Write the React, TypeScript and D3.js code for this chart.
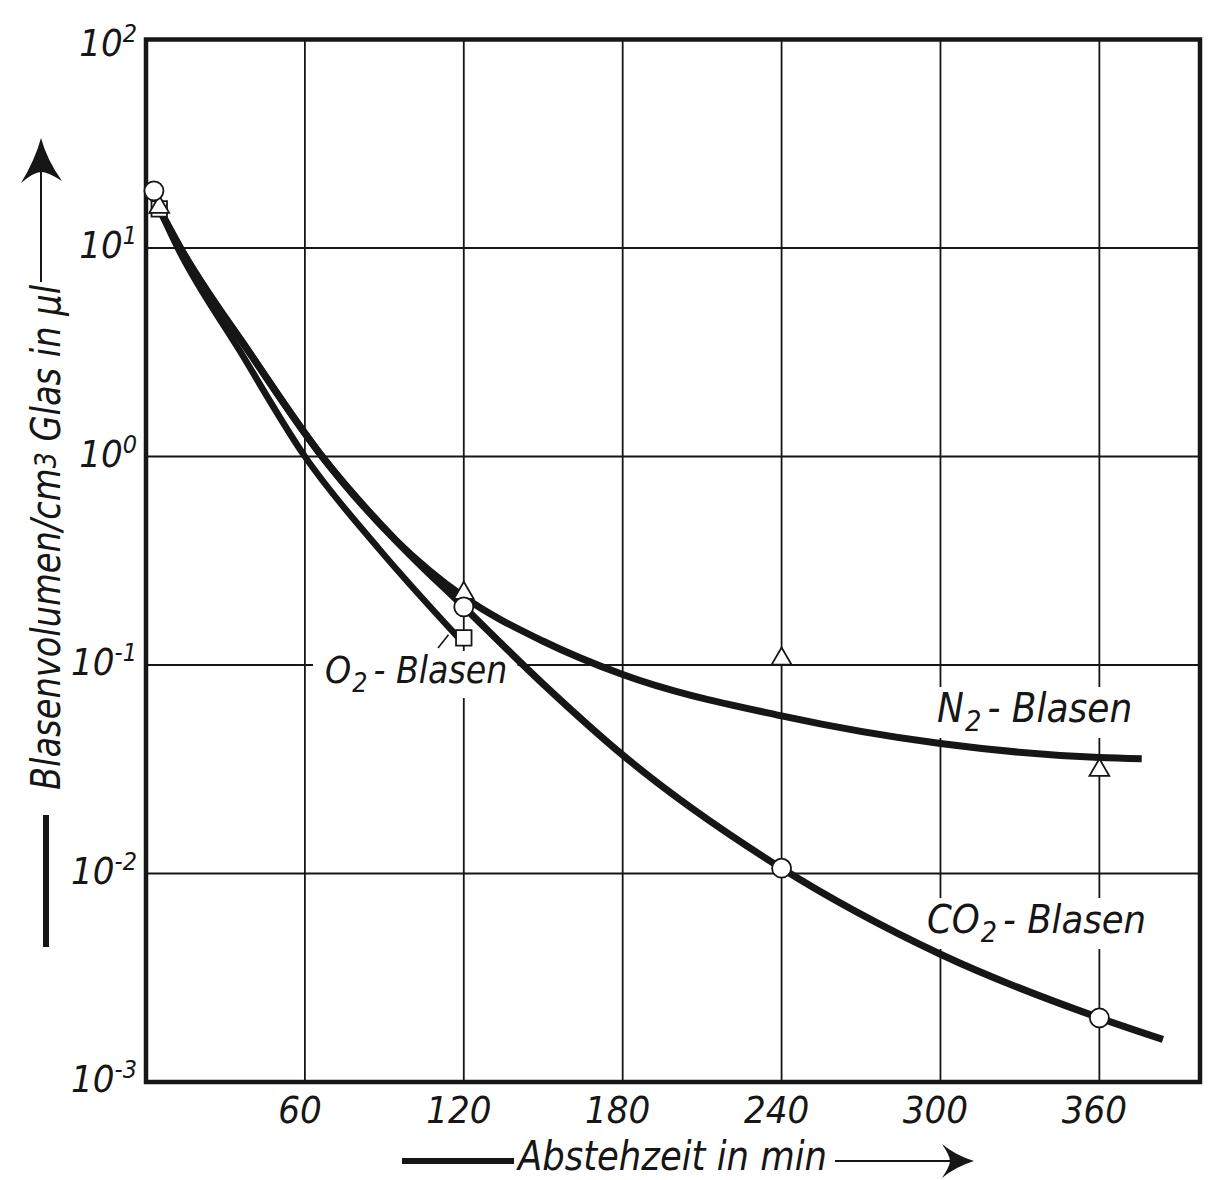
import React, { useEffect, useRef } from "react";
import * as d3 from "d3";

// measured points (time in min, volume in µl per cm3 glass)
const co2MarkT = [3, 120, 240, 360];
const co2MarkV = [18.8, 0.19, 0.0106, 0.00203];
const n2MarkT = [5, 120, 240, 360];
const n2MarkV = [15.7, 0.221, 0.107, 0.0313];
const o2MarkT = [5, 120];
const o2MarkV = [15.4, 0.135];

// drawn (fitted) curves
const o2CurveT = [5, 12, 35.5, 60, 88, 118];
const o2CurveV = [15.4, 10, 3.2, 1, 0.36, 0.135];
const n2CurveT = [5, 13, 39, 66.5, 94, 120, 150, 180, 240, 300, 360, 376];
const n2CurveV = [15.4, 10, 3.16, 1, 0.4, 0.212, 0.13, 0.09, 0.057, 0.042, 0.036, 0.0355];
const co2CurveT = [5, 13, 39, 66.5, 94, 120, 150, 180, 240, 300, 360, 384];
const co2CurveV = [15.4, 10, 3.16, 1, 0.4, 0.19, 0.081, 0.037, 0.0106, 0.0041, 0.00203, 0.0016];

const xTicks = [60, 120, 180, 240, 300, 360];
const yTicks = [1e-3, 1e-2, 1e-1, 1e0, 1e1, 1e2];
const yTickExp = ["-3", "-2", "-1", "0", "1", "2"];

const W = 1223;
const H = 1180;
const FONT = "'Liberation Sans Narrow', 'DejaVu Sans Condensed', 'Liberation Sans', sans-serif";
const INK = "#161616";

const zip = (t: number[], v: number[]) => t.map((d, i) => ({ t: d, v: v[i] }));

const App = () => {
  const ref = useRef<SVGSVGElement>(null);

  useEffect(() => {
    const svg = d3.select(ref.current);
    svg.selectAll("*").remove();

    const x = d3.scaleLinear().domain([0, 398]).range([146, 1200]);
    const y = d3.scaleLog().domain([1e-3, 1e2]).range([1082, 39.5]);

    svg.append("rect").attr("width", W).attr("height", H).attr("fill", "#fff");

    // grid
    const grid = svg.append("g").attr("stroke", INK).attr("stroke-width", 1.8);
    grid
      .selectAll("line.v")
      .data(xTicks)
      .enter()
      .append("line")
      .attr("x1", (d) => x(d))
      .attr("x2", (d) => x(d))
      .attr("y1", y(1e2))
      .attr("y2", y(1e-3));
    grid
      .selectAll("line.h")
      .data(yTicks.slice(1, -1))
      .enter()
      .append("line")
      .attr("x1", x(0))
      .attr("x2", x(398))
      .attr("y1", (d) => y(d))
      .attr("y2", (d) => y(d));

    // frame
    svg
      .append("rect")
      .attr("x", x(0))
      .attr("y", y(1e2))
      .attr("width", x(398) - x(0))
      .attr("height", y(1e-3) - y(1e2))
      .attr("fill", "none")
      .attr("stroke", INK)
      .attr("stroke-width", 4.5);

    const txt = (g: any) =>
      g.attr("font-family", FONT).attr("font-style", "italic").attr("fill", INK);

    // x tick labels
    svg
      .append("g")
      .call(txt)
      .attr("font-size", 38)
      .attr("text-anchor", "middle")
      .selectAll("text")
      .data(xTicks)
      .enter()
      .append("text")
      .attr("x", (d) => x(d) - 5)
      .attr("y", 1123)
      .text((d) => String(d));

    // y tick labels 10^n
    const yl = svg
      .append("g")
      .call(txt)
      .attr("font-size", 38)
      .attr("text-anchor", "end")
      .selectAll("text")
      .data(yTicks)
      .enter()
      .append("text")
      .attr("x", 137)
      .attr("y", (d, i) => y(d) + (i === yTicks.length - 1 ? 16 : 10));
    yl.append("tspan").text("10");
    yl.append("tspan")
      .attr("font-size", 25)
      .attr("dy", -14)
      .text((d, i) => yTickExp[i]);

    // series labels with white backing (grid is interrupted there)
    const seriesLabel = (
      gas: string,
      sub: string,
      x0: number,
      base: number,
      size: number
    ) => {
      const g = svg.append("g");
      const t = g
        .append("text")
        .call(txt)
        .attr("font-size", size)
        .attr("x", x0)
        .attr("y", base);
      t.append("tspan").text(gas);
      t.append("tspan").attr("font-size", size * 0.72).attr("dx", 1).attr("dy", 9).text(sub);
      t.append("tspan").attr("dx", 6).attr("dy", -9).text("- Blasen");
      const bb = (t.node() as SVGTextElement).getBBox();
      g.insert("rect", "text")
        .attr("x", bb.x - 12)
        .attr("y", bb.y + 2)
        .attr("width", bb.width + 22)
        .attr("height", bb.height - 2)
        .attr("fill", "#fff");
    };
    seriesLabel("O", "2", 325, 683, 37);
    seriesLabel("N", "2", 937, 722, 40);
    seriesLabel("CO", "2", 927, 933, 39.5);

    // leader from O2 label to its point
    svg
      .append("line")
      .attr("x1", 438)
      .attr("y1", 648)
      .attr("x2", x(118) - 10)
      .attr("y2", y(0.135) - 3)
      .attr("stroke", INK)
      .attr("stroke-width", 1.6);

    // curves
    const line = d3
      .line<{ t: number; v: number }>()
      .x((d) => x(d.t))
      .y((d) => y(d.v))
      .curve(d3.curveMonotoneX);

    const curves = [
      { data: zip(o2CurveT, o2CurveV), w: 6.5 },
      { data: zip(n2CurveT, n2CurveV), w: 7 },
      { data: zip(co2CurveT, co2CurveV), w: 7 },
    ];
    svg
      .append("g")
      .selectAll("path")
      .data(curves)
      .enter()
      .append("path")
      .attr("d", (d) => line(d.data))
      .attr("fill", "none")
      .attr("stroke", INK)
      .attr("stroke-width", (d) => d.w)
      .attr("stroke-linecap", "butt");

    // markers
    const mk = svg
      .append("g")
      .attr("fill", "#fff")
      .attr("stroke", INK)
      .attr("stroke-width", 1.8);
    mk.selectAll("path.sq")
      .data(zip(o2MarkT, o2MarkV))
      .enter()
      .append("path")
      .attr("transform", (d) => `translate(${x(d.t)},${y(d.v)})`)
      .attr("d", d3.symbol(d3.symbolSquare, 240)());
    mk.selectAll("path.tri")
      .data(zip(n2MarkT, n2MarkV))
      .enter()
      .append("path")
      .attr("transform", (d) => `translate(${x(d.t)},${y(d.v)})`)
      .attr("d", d3.symbol(d3.symbolTriangle, 170)());
    mk.selectAll("circle")
      .data(zip(co2MarkT, co2MarkV))
      .enter()
      .append("circle")
      .attr("cx", (d) => x(d.t))
      .attr("cy", (d) => y(d.v))
      .attr("r", 9.5);

    // x axis title with arrow
    const xt = svg.append("g");
    xt.append("line")
      .attr("x1", 402)
      .attr("x2", 514)
      .attr("y1", 1161)
      .attr("y2", 1161)
      .attr("stroke", INK)
      .attr("stroke-width", 6);
    xt.append("text")
      .call(txt)
      .attr("font-size", 40)
      .attr("x", 518)
      .attr("y", 1170)
      .attr("textLength", 309)
      .attr("lengthAdjust", "spacingAndGlyphs")
      .text("Abstehzeit in min");
    xt.append("line")
      .attr("x1", 835)
      .attr("x2", 955)
      .attr("y1", 1161)
      .attr("y2", 1161)
      .attr("stroke", INK)
      .attr("stroke-width", 2);
    xt.append("path")
      .attr("d", "M974,1161 Q955,1155 942,1144 Q950,1156 950,1161 Q950,1166 942,1178 Q955,1167 974,1161 Z")
      .attr("fill", INK);

    // y axis title with arrow
    const yt = svg.append("g");
    yt.append("line")
      .attr("x1", 46)
      .attr("x2", 46)
      .attr("y1", 815)
      .attr("y2", 947)
      .attr("stroke", INK)
      .attr("stroke-width", 6);
    const ytxt = yt
      .append("text")
      .call(txt)
      .attr("font-size", 40)
      .attr("transform", "translate(60,790) rotate(-90)")
      .attr("textLength", 505)
      .attr("lengthAdjust", "spacingAndGlyphs");
    ytxt.append("tspan").text("Blasenvolumen/cm");
    ytxt.append("tspan").attr("font-size", 30).attr("dy", -4).text("3");
    ytxt.append("tspan").attr("dy", 4).text(" Glas in μl");
    yt.append("line")
      .attr("x1", 41)
      .attr("x2", 41)
      .attr("y1", 282)
      .attr("y2", 160)
      .attr("stroke", INK)
      .attr("stroke-width", 2);
    yt.append("path")
      .attr("d", "M41,138 Q47,160 62,181 Q48,172 41,172 Q34,172 21,183 Q35,160 41,138 Z")
      .attr("fill", INK);
  }, []);

  return (
    <svg
      ref={ref}
      width={W}
      height={H}
      style={{ position: "absolute", left: 0, top: 0 }}
    />
  );
};

export default App;
